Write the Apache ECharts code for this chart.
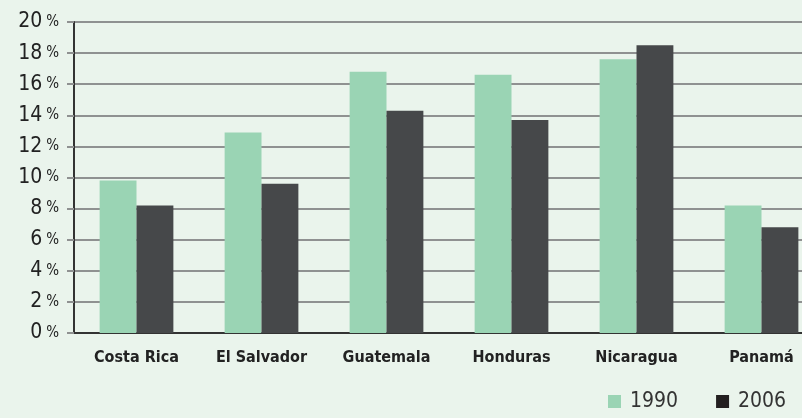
<!DOCTYPE html>
<html>
<head>
<meta charset="utf-8">
<script src="https://cdn.jsdelivr.net/npm/echarts@6/dist/echarts.min.js"></script>
<style>
  html, body { margin: 0; padding: 0; background: #eaf4ec; }
  #chart { width: 802px; height: 418px; }
</style>
</head>
<body>
<div id="chart"></div>
<script>
const countries = ['Costa Rica', 'El Salvador', 'Guatemala', 'Honduras', 'Nicaragua', 'Panamá']
const values1990 = [9.8, 12.9, 16.8, 16.6, 17.6, 8.2]
const values2006 = [8.2, 9.6, 14.3, 13.7, 18.5, 6.8]

const chart = echarts.init(document.getElementById('chart'))
const font = '"DejaVu Sans Condensed", sans-serif'

let option = {
  backgroundColor: '#eaf4ec',
  animation: false,
  grid: { left: 74, top: 22, width: 750, height: 311, containLabel: false, outerBoundsMode: 'none' },
  legend: {
    left: 603, bottom: 1,
    itemWidth: 13, itemHeight: 13, itemGap: 38,
    icon: 'rect',
    textStyle: { fontFamily: font, fontSize: 21, color: '#333', padding: [0, 0, 0, 4] },
    data: [
      { name: '1990', itemStyle: { color: '#9ad4b4' } },
      { name: '2006', itemStyle: { color: '#231f20' } }
    ]
  },
  xAxis: {
    type: 'category',
    data: countries,
    axisLine: { lineStyle: { color: '#333', width: 2 } },
    axisTick: { length: 5, lineStyle: { color: '#333', width: 1 } },
    axisLabel: { interval: 0, margin: 17, fontFamily: font, fontWeight: 'bold', fontSize: 16, color: '#222' }
  },
  yAxis: {
    type: 'value',
    min: 0, max: 20, interval: 2,
    axisLine: { show: true, lineStyle: { color: '#333', width: 2 } },
    axisTick: { show: true, length: 7, lineStyle: { color: '#8f9191', width: 2 } },
    splitLine: { lineStyle: { color: '#8f9191', width: 2 } },
    axisLabel: {
      margin: 15,
      formatter: v => '{n|' + v + '}{p|%}',
      rich: {
        n: { fontFamily: font, fontSize: 21, color: '#222', padding: [0, 4, 0, 0] },
        p: { fontFamily: font, fontSize: 15, color: '#222' }
      }
    }
  },
  series: [
    {
      name: '1990', type: 'bar', data: values1990,
      barGap: 0, barCategoryGap: '41%',
      itemStyle: { color: '#9ad4b4' }
    },
    {
      name: '2006', type: 'bar', data: values2006,
      itemStyle: { color: '#46484a' }
    }
  ]
}
chart.setOption(option)
</script>
</body>
</html>
